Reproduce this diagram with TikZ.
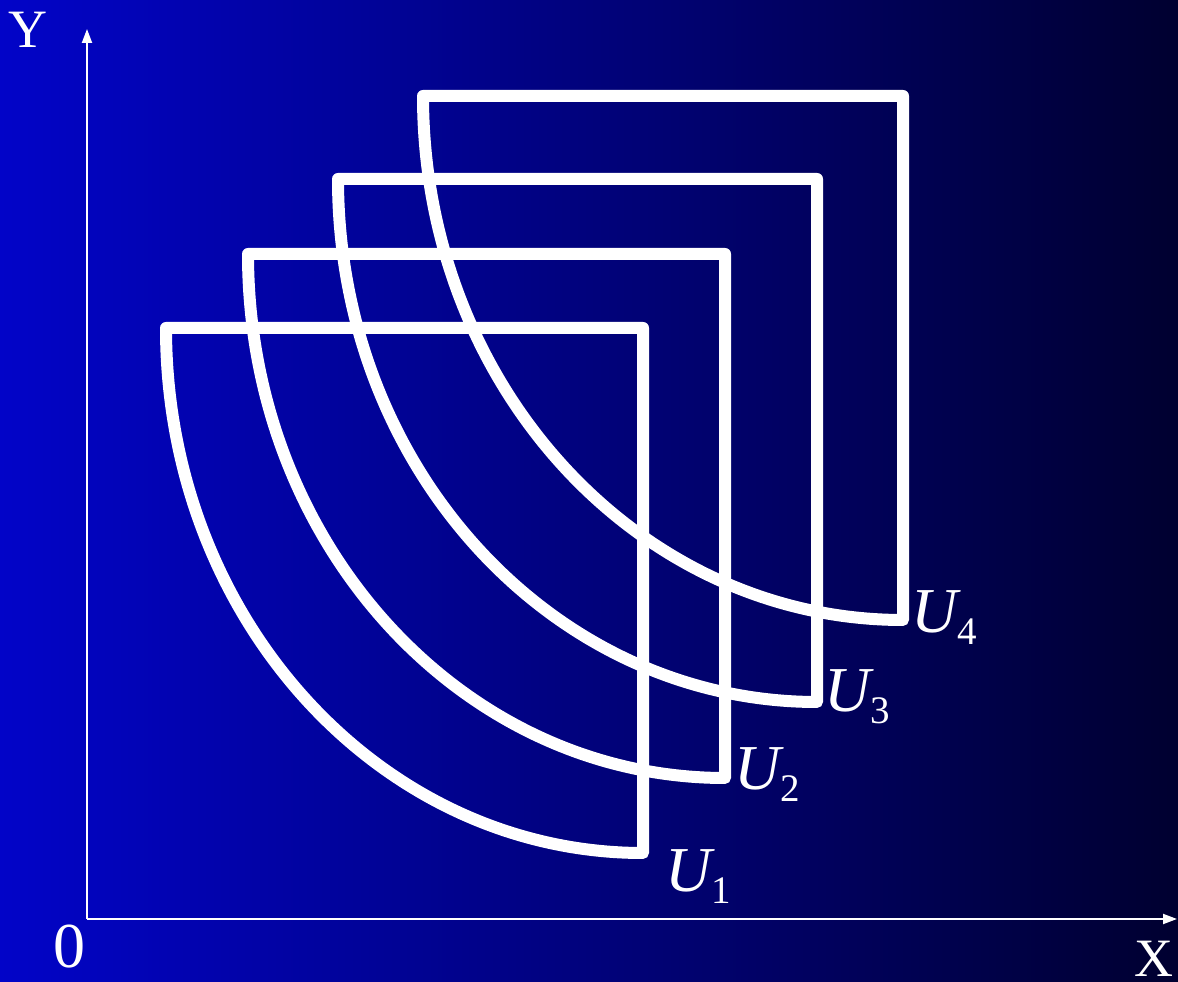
\documentclass[tikz,border=0pt]{standalone}
\usepackage{fontspec}
\setmainfont{Liberation Serif}
\usetikzlibrary{arrows.meta}
\newcommand{\ulbl}[1]{U\raisebox{-12pt}{\fontsize{39}{39}\selectfont\upshape #1}}
\definecolor{bgleft}{RGB}{2,4,200}
\definecolor{bgright}{RGB}{0,0,48}
\begin{document}
\begin{tikzpicture}[x=1pt,y=1pt,
  quartshape/.style={draw=white, line width=12pt, line join=round},
  axisline/.style={draw=white, line width=2pt, -{Triangle[width=10pt,length=14pt]}},
  ulab/.style={text=white, font=\fontsize{64}{64}\selectfont\itshape, anchor=base west, inner sep=0pt},
  axlab/.style={text=white, inner sep=0pt}]
\shade[left color=bgleft, right color=bgright] (0,0) rectangle (1178,982);
\useasboundingbox (0,0) rectangle (1178,982);
% axes
\coordinate (O) at (87,63);
\coordinate (Ytip) at (87,953);
\coordinate (Xtip) at (1177,63);
\draw[axisline] (O) -- (Ytip);
\draw[axisline] (O) -- (Xtip);
\node[axlab, font=\fontsize{54}{54}\selectfont] (ylab) at (28,952) {Y};
\node[axlab, font=\fontsize{64}{64}\selectfont] (olab) at (69,35) {0};
\node[axlab, font=\fontsize{54}{54}\selectfont] (xlab) at (1154,23) {X};
% shapes
\draw[quartshape] (166,654) -- (643,654) -- (643,129)
  arc[start angle=270, end angle=180, x radius=477, y radius=525] -- cycle;
\draw[quartshape] (248,728) -- (725,728) -- (725,204)
  arc[start angle=270, end angle=180, x radius=477, y radius=524] -- cycle;
\draw[quartshape] (338,803) -- (817,803) -- (817,280)
  arc[start angle=270, end angle=180, x radius=479, y radius=523] -- cycle;
\draw[quartshape] (423,886) -- (903,886) -- (903,362)
  arc[start angle=270, end angle=180, x radius=480, y radius=524] -- cycle;
% labels
\node[ulab] (u1) at (665,90) {\ulbl{1}};
\node[ulab] (u2) at (734,192) {\ulbl{2}};
\node[ulab] (u3) at (824,270) {\ulbl{3}};
\node[ulab] (u4) at (911,349) {\ulbl{4}};
\end{tikzpicture}
\end{document}
